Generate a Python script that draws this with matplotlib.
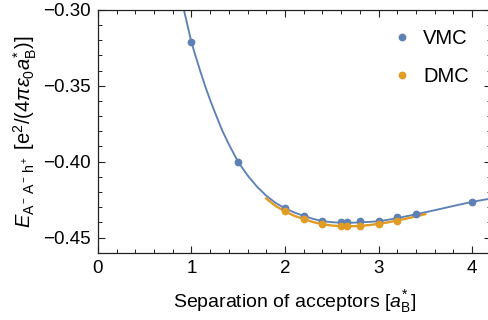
import matplotlib
matplotlib.use("Agg")
import matplotlib.pyplot as plt
from matplotlib.ticker import MultipleLocator

plt.rcParams['font.family'] = ['Liberation Sans', 'DejaVu Sans']
plt.rcParams['mathtext.fontset'] = 'custom'
plt.rcParams['mathtext.rm'] = 'Liberation Sans'
plt.rcParams['mathtext.it'] = 'Liberation Sans:italic'
plt.rcParams['mathtext.bf'] = 'Liberation Sans:bold'

# measured energies
vmc_x = [1.0, 1.5, 2.0, 2.2, 2.4, 2.6, 2.66, 2.8, 3.0, 3.2, 3.4, 4.0]
vmc_y = [-0.3212, -0.4002, -0.4305, -0.4357, -0.4390, -0.4399, -0.4399,
         -0.4392, -0.4392, -0.4367, -0.4346, -0.4264]
dmc_x = [2.0, 2.2, 2.4, 2.6, 2.66, 2.8, 3.0, 3.2]
dmc_y = [-0.4326, -0.4379, -0.4413, -0.4425, -0.4425, -0.4425, -0.4414, -0.4388]

# fitted curves
vmc_fit_x = [0.92, 0.96, 1.0, 1.05, 1.1, 1.15, 1.2, 1.26, 1.33, 1.4, 1.5, 1.6,
             1.7, 1.8, 1.9, 2.0, 2.1, 2.2, 2.3, 2.4, 2.5, 2.6, 2.7, 2.8, 2.9,
             3.0, 3.1, 3.2, 3.4, 3.6, 3.8, 4.0, 4.2]
vmc_fit_y = [-0.3000, -0.3105, -0.3212, -0.3314, -0.3413, -0.3507, -0.3593,
             -0.3688, -0.3795, -0.3885, -0.4002, -0.4090, -0.4164, -0.4224,
             -0.4272, -0.4307, -0.4335, -0.4357, -0.4377, -0.4392, -0.4399,
             -0.4402, -0.4403, -0.4400, -0.4397, -0.4393, -0.4383, -0.4372,
             -0.4347, -0.4320, -0.4292, -0.4265, -0.4243]
dmc_fit_x = [1.8, 1.9, 2.0, 2.1, 2.2, 2.3, 2.4, 2.5, 2.6, 2.7, 2.8, 2.9, 3.0,
             3.1, 3.2, 3.3, 3.4, 3.5]
dmc_fit_y = [-0.4243, -0.4292, -0.4328, -0.4357, -0.4378, -0.4398, -0.4412,
             -0.4421, -0.4425, -0.4426, -0.4423, -0.4418, -0.4410, -0.4400,
             -0.4388, -0.4375, -0.4361, -0.4346]

blue = '#5E81B5'
orange = '#E19C24'

fig = plt.figure(figsize=(4.89, 3.2), dpi=100)
ax = fig.add_axes([0.2, 0.2103, (491 - 98) / 489, 0.7587])

ax.plot(vmc_fit_x, vmc_fit_y, color=blue, lw=1.35, zorder=2)
ax.plot(dmc_fit_x, dmc_fit_y, color=orange, lw=1.7, zorder=2)
ax.plot(vmc_x, vmc_y, 'o', color=blue, ms=5.6, mew=0, label='VMC', zorder=3)
ax.plot(dmc_x, dmc_y, 'o', color=orange, ms=5.6, mew=0, label='DMC', zorder=4)

ax.set_xlim(0, 4.2)
ax.set_ylim(-0.46, -0.30)
ax.xaxis.set_major_locator(MultipleLocator(1))
ax.xaxis.set_minor_locator(MultipleLocator(0.2))
ax.yaxis.set_major_locator(MultipleLocator(0.05))
ax.yaxis.set_minor_locator(MultipleLocator(0.01))
ax.yaxis.set_major_formatter(plt.FuncFormatter(lambda v, p: '\u2212%.2f' % abs(v)))

ax.tick_params(which='both', direction='in', top=True, right=True,
               colors='#222222', labelcolor='black', labelsize=13.5)
ax.tick_params(which='major', length=5, width=0.8, pad=5)
ax.tick_params(which='minor', length=3, width=0.7)
for s in ax.spines.values():
    s.set_linewidth(0.9)
    s.set_color('#222222')

ax.set_xlabel(r'Separation of acceptors [$a^{*}_{\mathrm{B}}$]', fontsize=14, labelpad=8)
ax.set_ylabel(r'$E_{\mathrm{A^-\,A^-\,h^+}}$ [e$^2$/(4$\pi\varepsilon_0 a^{*}_{\mathrm{B}}$)]',
              fontsize=14.5, labelpad=3)

ax.legend(loc='upper left', bbox_to_anchor=(396 / 489, 1 - 29 / 320),
          bbox_transform=fig.transFigure, frameon=False, fontsize=14.5,
          handlelength=0.6, handletextpad=0.75, labelspacing=0.95,
          borderpad=0, borderaxespad=0)

fig.savefig('out.png', dpi=100)
